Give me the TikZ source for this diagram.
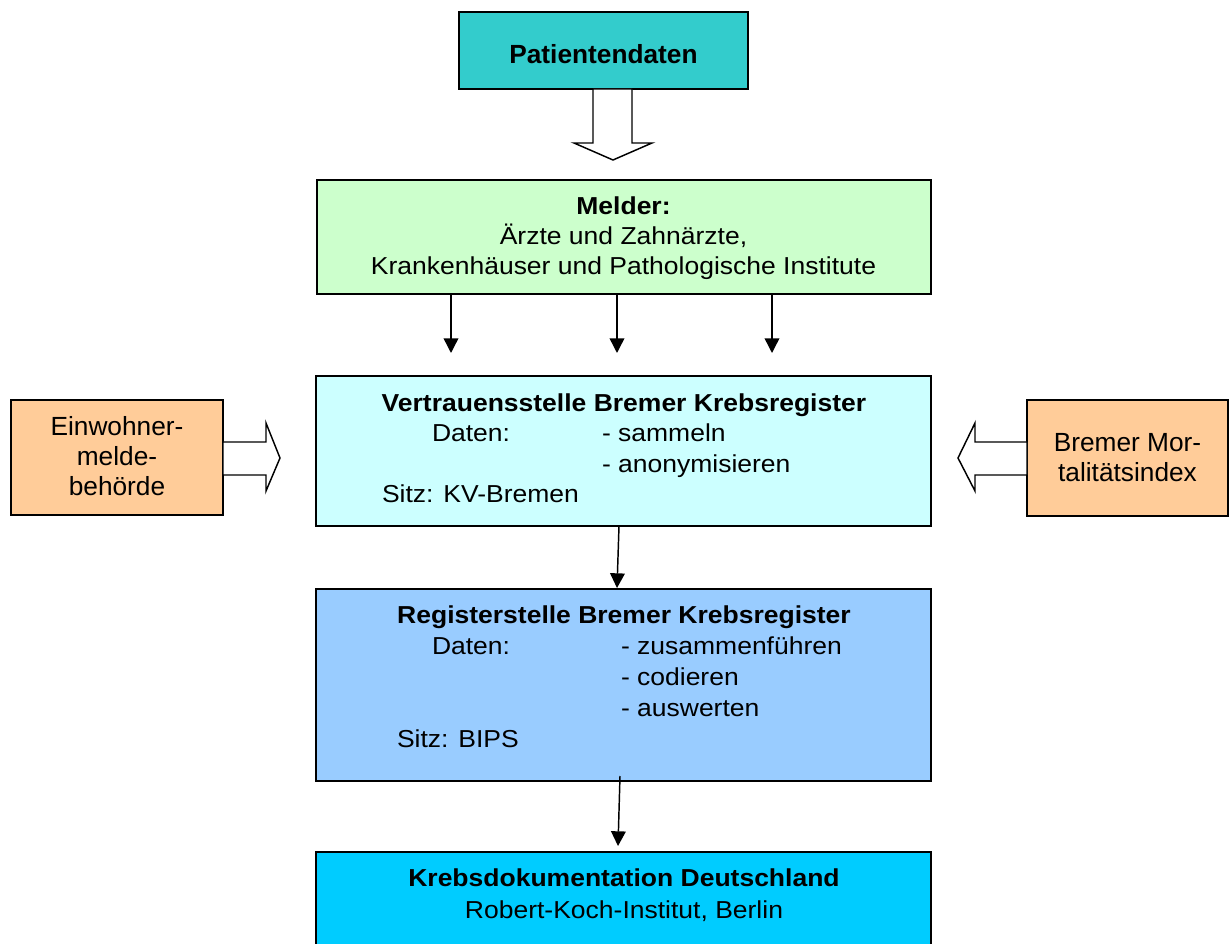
\documentclass[tikz,border=0pt]{standalone}
\usepackage{fontspec}
\setmainfont{Liberation Sans}
\newfontfamily\widefont{Liberation Sans}[FakeStretch=1.08]
\usetikzlibrary{arrows.meta,calc}
\definecolor{cpat}{HTML}{33CCCC}
\definecolor{cmel}{HTML}{CCFFCC}
\definecolor{cvs}{HTML}{CCFFFF}
\definecolor{crs}{HTML}{99CCFF}
\definecolor{ckd}{HTML}{00CCFF}
\definecolor{cside}{HTML}{FFCC99}
\tikzset{
  boxnode/.style={draw=black, line width=1.3pt, inner sep=0pt, outer sep=0pt},
  txt/.style={inner sep=0pt, outer sep=0pt, anchor=base, font=\widefont\fontsize{18.4}{22}\selectfont},
  txtl/.style={txt, anchor=base west},
  boldtxt/.style={txt, font=\widefont\bfseries\fontsize{18.4}{22}\selectfont},
  sidetxt/.style={inner sep=0pt, anchor=base, font=\fontsize{19.7}{23}\selectfont},
  hollow/.style={draw=black, fill=white, line width=1.1pt, line join=miter},
  arr/.style={draw=black, line width=1.1pt, -{Triangle[length=11pt,width=11pt]}}
}
\begin{document}
\begin{tikzpicture}[x=0.75pt, y=-0.75pt]
\useasboundingbox (0,0) rectangle (1229,944);
% boxes
\node[boxnode, fill=cpat, minimum width=216.75pt, minimum height=57.75pt] (pd) at (603.5,50.5) {};
\node[boxnode, fill=cmel, minimum width=460.5pt, minimum height=85.5pt] (ml) at (624,237) {};
\node[boxnode, fill=cvs, minimum width=461.25pt, minimum height=112.5pt] (vs) at (623.5,451) {};
\node[boxnode, fill=crs, minimum width=461.25pt, minimum height=144pt] (rs) at (623.5,685) {};
\node[boxnode, fill=ckd, minimum width=461.25pt, minimum height=81pt] (kd) at (623.5,906) {};
\node[boxnode, fill=cside, minimum width=159pt, minimum height=86.25pt] (ew) at (117,457.5) {};
\node[boxnode, fill=cside, minimum width=150.75pt, minimum height=87pt] (bm) at (1127.5,458) {};
% texts
\node[inner sep=0pt, anchor=base, font=\bfseries\fontsize{19.7}{23}\selectfont] (tpd) at (603.5,64) {Patientendaten};
\node[boldtxt] (tml1) at (623.5,215) {Melder:};
\node[txt] (tml2) at (623.5,245) {Ärzte und Zahnärzte,};
\node[txt] (tml3) at (623.5,275) {Krankenhäuser und Pathologische Institute};
\node[boldtxt] (tvs1) at (624,412) {Vertrauensstelle Bremer Krebsregister};
\node[txtl] (tvs2) at (432,442) {Daten:};
\node[txtl] (tvs3) at (602,442) {- sammeln};
\node[txtl] (tvs4) at (602,473) {- anonymisieren};
\node[txtl] (tvs5) at (382,503) {Sitz: KV-Bremen};
\node[boldtxt] (trs1) at (624,624) {Registerstelle Bremer Krebsregister};
\node[txtl] (trs2) at (432,655) {Daten:};
\node[txtl] (trs3) at (621,655) {- zusammenführen};
\node[txtl] (trs4) at (621,686) {- codieren};
\node[txtl] (trs5) at (621,717) {- auswerten};
\node[txtl] (trs6) at (397,748) {Sitz: BIPS};
\node[boldtxt] (tkd1) at (624,886) {Krebsdokumentation Deutschland};
\node[txt] (tkd2) at (624,918) {Robert-Koch-Institut, Berlin};
\node[sidetxt] (tew1) at (117,436) {Einwohner-};
\node[sidetxt] (tew2) at (117,466) {melde-};
\node[sidetxt] (tew3) at (117,496) {behörde};
\node[sidetxt] (tbm1) at (1127.5,452) {Bremer Mor-};
\node[sidetxt] (tbm2) at (1127.5,482) {talitätsindex};
% hollow arrows
\draw[hollow] ($(pd.south)+(-10.5,0)$) -- ++(0,54) -- ++(-19,0) -- ++(39,17) -- ++(39,-17) -- ++(-20,0) -- ++(0,-54) -- cycle;
\draw[hollow] ($(ew.east)+(0,-15.5)$) -- ++(43,0) -- ++(0,-19) -- ++(14,35) -- ++(-14,33) -- ++(0,-16) -- ++(-43,0) -- cycle;
\draw[hollow] ($(bm.west)+(0,-16)$) -- ++(-52,0) -- ++(0,-19) -- ++(-17,35) -- ++(17,33) -- ++(0,-16) -- ++(52,0) -- cycle;
% thin arrows
\draw[arr] ($(ml.south west)+(134,0)$) -- ++(0,59);
\draw[arr] ($(ml.south west)+(300,0)$) -- ++(0,59);
\draw[arr] ($(ml.south west)+(455,0)$) -- ++(0,59);
\draw[arr] ($(vs.south)+(-4.5,0)$) -- ($(rs.north)+(-6.5,-1)$);
\draw[arr] ($(rs.south)+(-3.5,-5)$) -- ($(kd.north)+(-5.5,-6)$);
\end{tikzpicture}
\end{document}
